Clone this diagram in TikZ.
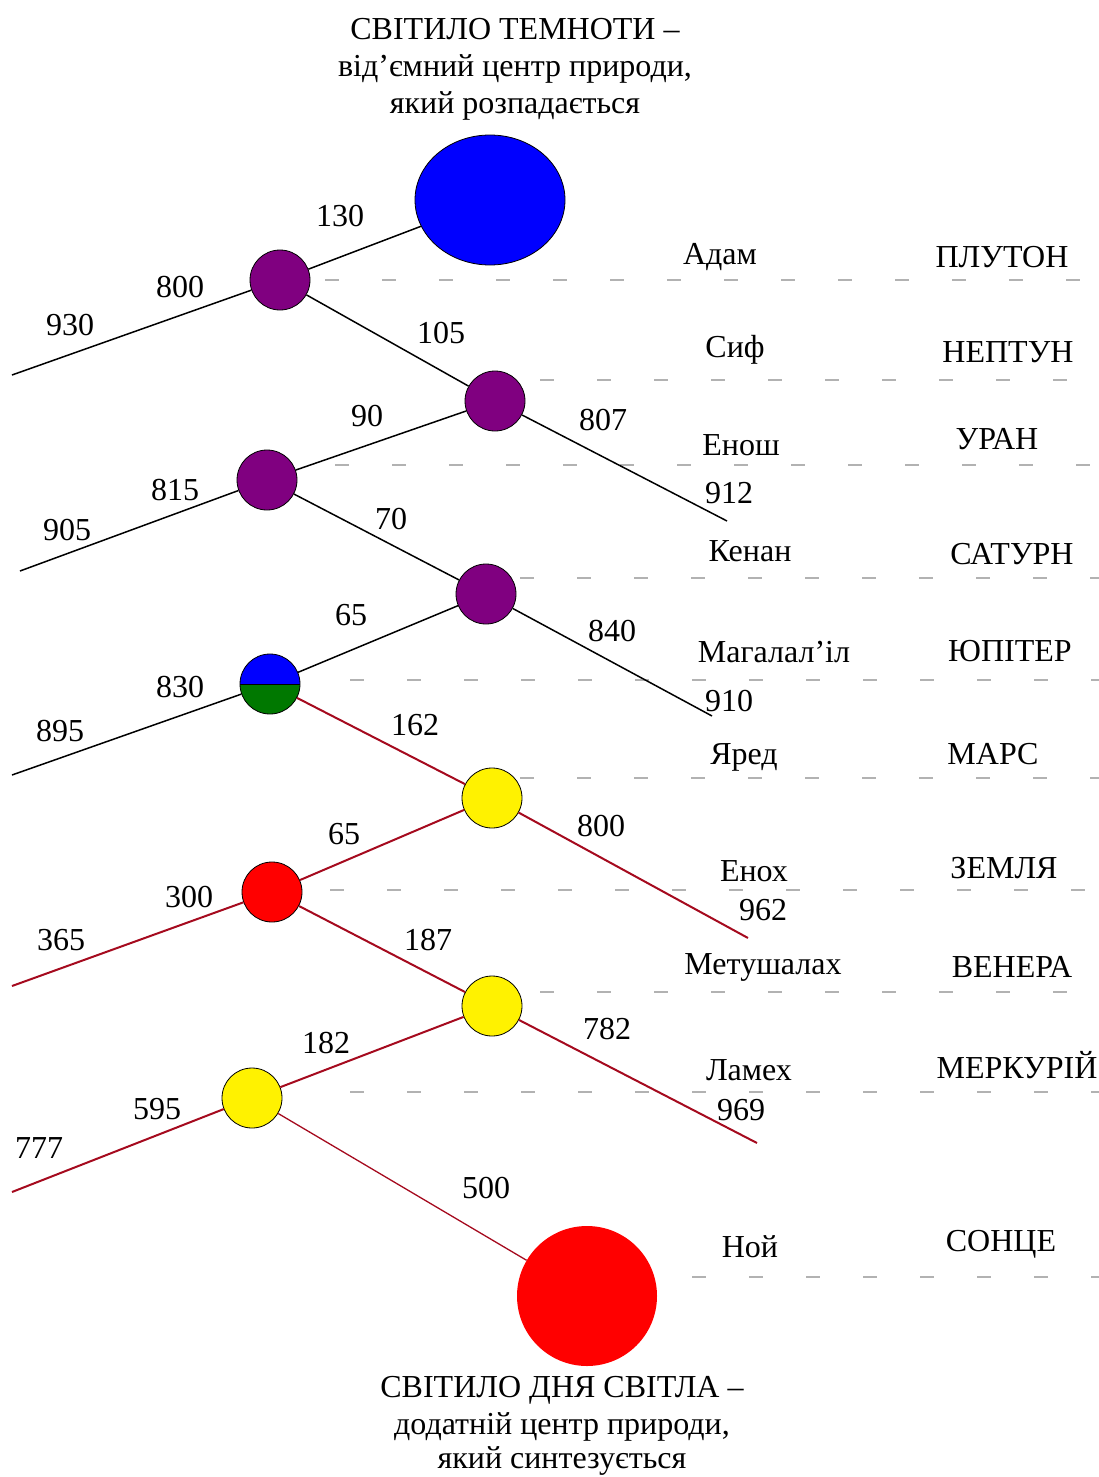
\documentclass[tikz,border=0pt]{standalone}
\usepackage{fontspec}
\setmainfont{Liberation Serif}
\usetikzlibrary{shapes.geometric}
\definecolor{lred}{RGB}{165,10,30}
\definecolor{dgreen}{RGB}{0,120,0}
\definecolor{purp}{RGB}{128,0,128}
\tikzset{
  dot/.style={circle,draw=black,line width=0.8pt,minimum size=60pt,inner sep=0pt},
  lab/.style={font=\fontsize{32}{36}\selectfont,inner sep=0pt,yshift=-2pt},
  bl/.style={line width=1.5pt,black},
  rl/.style={line width=2pt,lred},
  gd/.style={line width=1.3pt,gray!60,dash pattern=on 14pt off 43pt},
}
\begin{document}
\begin{tikzpicture}[x=1pt,y=-1pt]
\useasboundingbox (0,0) rectangle (1099,1477);
% dashed rows
\foreach \ya/\xa in {280/325,380/540,465/335,578/520,680/350,778/520,890/330,992/540,1092/350,1277/692}{
  \draw[gd] (\xa,\ya) -- (1099,\ya);
}
% nodes
\node[ellipse,draw=black,line width=0.8pt,fill=blue,minimum width=150pt,minimum height=130pt,inner sep=0pt] (top) at (490,200) {};
\node[dot,fill=purp] (p1) at (280,280) {};
\node[dot,fill=purp] (p2) at (495,401) {};
\node[dot,fill=purp] (p3) at (267,480) {};
\node[dot,fill=purp] (p4) at (486,594) {};
\node[dot,path picture={
  \fill[blue] (path picture bounding box.north west) rectangle (path picture bounding box.east);
  \fill[dgreen] (path picture bounding box.west) rectangle (path picture bounding box.south east);
  \draw[line width=0.8pt] (path picture bounding box.west) -- (path picture bounding box.east);}] (h) at (270,684) {};
\node[dot,fill=yellow] (y1) at (492,798) {};
\node[dot,fill=red] (r1) at (272,892) {};
\node[dot,fill=yellow] (y2) at (492,1006) {};
\node[dot,fill=yellow] (y3) at (252,1098) {};
\node[circle,fill=red,minimum size=140pt,inner sep=0pt] (bot) at (587,1296) {};
% free ends
\coordinate (e1) at (12,375);
\coordinate (e2) at (727,521);
\coordinate (e3) at (20,571);
\coordinate (e4) at (712,716);
\coordinate (e5) at (12,775);
\coordinate (e6) at (748,938);
\coordinate (e7) at (12,986);
\coordinate (e8) at (757,1143);
\coordinate (e9) at (12,1192);
% connectors
\draw[bl] (p1) -- (top);
\draw[bl] (e1) -- (p1);
\draw[bl] (p1) -- (p2);
\draw[bl] (p2) -- (e2);
\draw[bl] (p2) -- (p3);
\draw[bl] (e3) -- (p3);
\draw[bl] (p3) -- (p4);
\draw[bl] (p4) -- (e4);
\draw[bl] (p4) -- (h);
\draw[bl] (e5) -- (h);
\draw[rl] (h) -- (y1);
\draw[rl] (y1) -- (e6);
\draw[rl] (y1) -- (r1);
\draw[rl] (e7) -- (r1);
\draw[rl] (r1) -- (y2);
\draw[rl] (y2) -- (e8);
\draw[rl] (y2) -- (y3);
\draw[rl] (e9) -- (y3);
\draw[lred,line width=1.3pt] (y3) -- (bot);
% numbers
\node[lab] (n1) at (340,214) {130};
\node[lab] (n2) at (180,285) {800};
\node[lab] (n3) at (70,323) {930};
\node[lab] (n4) at (441,331) {105};
\node[lab] (n5) at (603,418) {807};
\node[lab] (n6) at (729,491) {912};
\node[lab] (n7) at (367,414) {90};
\node[lab] (n8) at (175,488) {815};
\node[lab] (n9) at (67,528) {905};
\node[lab] (n10) at (391,517) {70};
\node[lab] (n11) at (351,613) {65};
\node[lab] (n12) at (612,629) {840};
\node[lab] (n13) at (729,699) {910};
\node[lab] (n14) at (180,685) {830};
\node[lab] (n15) at (60,729) {895};
\node[lab] (n16) at (415,723) {162};
\node[lab] (n17) at (601,824) {800};
\node[lab] (n18) at (344,832) {65};
\node[lab] (n19) at (763,908) {962};
\node[lab] (n20) at (189,895) {300};
\node[lab] (n21) at (61,938) {365};
\node[lab] (n22) at (428,938) {187};
\node[lab] (n23) at (607,1027) {782};
\node[lab] (n24) at (326,1041) {182};
\node[lab] (n25) at (741,1108) {969};
\node[lab] (n26) at (157,1107) {595};
\node[lab] (n27) at (39,1146) {777};
\node[lab] (n28) at (486,1186) {500};
% names
\node[lab] (a1) at (720,255) {Адам};
\node[lab] (a2) at (735,348) {Сиф};
\node[lab] (a3) at (741,443) {Енош};
\node[lab] (a4) at (750,549) {Кенан};
\node[lab] (a5) at (774,650) {Магалал’іл};
\node[lab] (a6) at (744,755) {Яред};
\node[lab] (a7) at (754,869) {Енох};
\node[lab] (a8) at (763,965) {Метушалах};
\node[lab] (a9) at (749,1068) {Ламех};
\node[lab] (a10) at (750,1245) {Ной};
% planets
\node[lab] (b1) at (1002,255) {ПЛУТОН};
\node[lab] (b2) at (1008,350) {НЕПТУН};
\node[lab] (b3) at (997,437) {УРАН};
\node[lab] (b4) at (1012,552) {САТУРН};
\node[lab] (b5) at (1010,649) {ЮПІТЕР};
\node[lab] (b6) at (993,752) {МАРС};
\node[lab] (b7) at (1004,866) {ЗЕМЛЯ};
\node[lab] (b8) at (1012,965) {ВЕНЕРА};
\node[lab] (b9) at (1017,1063) {МЕРКУРІЙ};
\node[lab] (b10) at (1001,1242) {СОНЦЕ};
% titles
\node[lab] (t1) at (515,27) {СВІТИЛО ТЕМНОТИ –};
\node[lab] (t2) at (515,67) {від’ємний центр природи,};
\node[lab] (t3) at (515,104) {який розпадається};
\node[lab] (s1) at (562,1388) {СВІТИЛО ДНЯ СВІТЛА –};
\node[lab] (s2) at (562,1425) {додатній центр природи,};
\node[lab] (s3) at (562,1459) {який синтезується};
\end{tikzpicture}
\end{document}
